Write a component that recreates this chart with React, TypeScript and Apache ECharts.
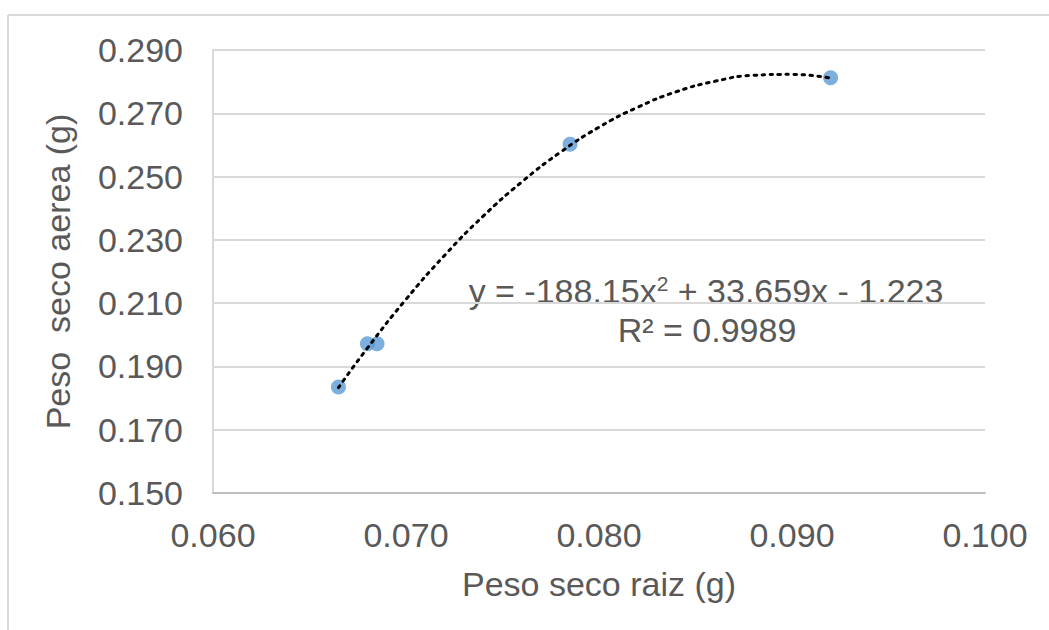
import React, { useEffect, useRef } from "react";
import * as echarts from "echarts";

const rootX = [0.0665, 0.068, 0.0685, 0.0785, 0.092];
const shootY = [0.1835, 0.1972, 0.1972, 0.2602, 0.2812];

// Trendline points
const trendX = [0.0665, 0.068, 0.07, 0.072, 0.074, 0.076, 0.078, 0.08, 0.082, 0.084, 0.086, 0.088, 0.09, 0.092];
const trendY = [0.1833, 0.1958, 0.2112, 0.2251, 0.2375, 0.2483, 0.2577, 0.2656, 0.2719, 0.2768, 0.2801, 0.282, 0.2823, 0.2811];

const xTitle = "Peso seco raiz (g)";
const yTitle = "Peso  seco aerea (g)";
const equation = "y = -188.15x{sup|2} + 33.659x - 1.223";
const r2 = "R² = 0.9989";

export default function App() {
  const ref = useRef<HTMLDivElement>(null);
  useEffect(() => {
    if (!ref.current) return;
    const chart = echarts.init(ref.current, null, { renderer: "svg" });
    const font = "Arial, 'Liberation Sans', sans-serif";
    const txt = "#595959";
    const fs = 34;
    chart.setOption({
      animation: false,
      backgroundColor: "#ffffff",
      grid: { left: 213, right: 64, top: 50, bottom: 137, containLabel: false },
      xAxis: {
        type: "value",
        min: 0.06,
        max: 0.1,
        interval: 0.01,
        name: xTitle,
        nameLocation: "middle",
        nameGap: 74,
        nameTextStyle: { color: txt, fontSize: fs, fontFamily: font },
        axisLine: { show: true, lineStyle: { color: "#bfbfbf", width: 2 } },
        axisTick: { show: false },
        splitLine: { show: false },
        axisLabel: {
          color: txt,
          fontSize: fs,
          fontFamily: font,
          margin: 25,
          formatter: (v: number) => v.toFixed(3),
        },
      },
      yAxis: {
        type: "value",
        min: 0.15,
        max: 0.29,
        interval: 0.02,
        name: yTitle,
        nameLocation: "middle",
        nameGap: 138,
        nameTextStyle: { color: txt, fontSize: fs, fontFamily: font },
        axisLine: { show: true, lineStyle: { color: "#d9d9d9", width: 2 } },
        axisTick: { show: false },
        splitLine: { show: true, lineStyle: { color: "#d9d9d9", width: 2 } },
        axisLabel: {
          color: txt,
          fontSize: fs,
          fontFamily: font,
          margin: 30,
          formatter: (v: number) => v.toFixed(3),
        },
      },
      series: [
        {
          type: "line",
          data: trendX.map((x, i) => [x, trendY[i]]),
          smooth: true,
          showSymbol: false,
          symbol: "none",
          lineStyle: { color: "#000000", width: 3, type: [2.5, 5.5], cap: "round" },
          z: 3,
        },
        {
          type: "scatter",
          data: rootX.map((x, i) => [x, shootY[i]]),
          symbol: "circle",
          symbolSize: 15,
          itemStyle: { color: "#5b9bd5" },
          z: 2,
        },
      ],
      graphic: [
        { type: "line", shape: { x1: 8, y1: 15, x2: 1049, y2: 15 }, style: { stroke: "#d9d9d9", lineWidth: 2 } },
        { type: "line", shape: { x1: 8, y1: 15, x2: 8, y2: 630 }, style: { stroke: "#d9d9d9", lineWidth: 2 } },
        {
          type: "text",
          x: 706,
          y: 291,
          style: {
            text: equation,
            fill: txt,
            font: `${fs}px ${font}`,
            align: "center",
            verticalAlign: "middle",
            rich: {
              sup: { fontSize: 21, fontFamily: font, fill: txt, verticalAlign: "top", padding: [0, 0, 16, 0] },
            },
          },
        },
        {
          type: "text",
          x: 707,
          y: 330,
          style: { text: r2, fill: txt, font: `${fs}px ${font}`, align: "center", verticalAlign: "middle" },
        },
      ],
    });
    return () => chart.dispose();
  }, []);
  return (
    <div
      ref={ref}
      style={{ position: "fixed", left: 0, top: 0, width: 1049, height: 630 }}
    />
  );
}
